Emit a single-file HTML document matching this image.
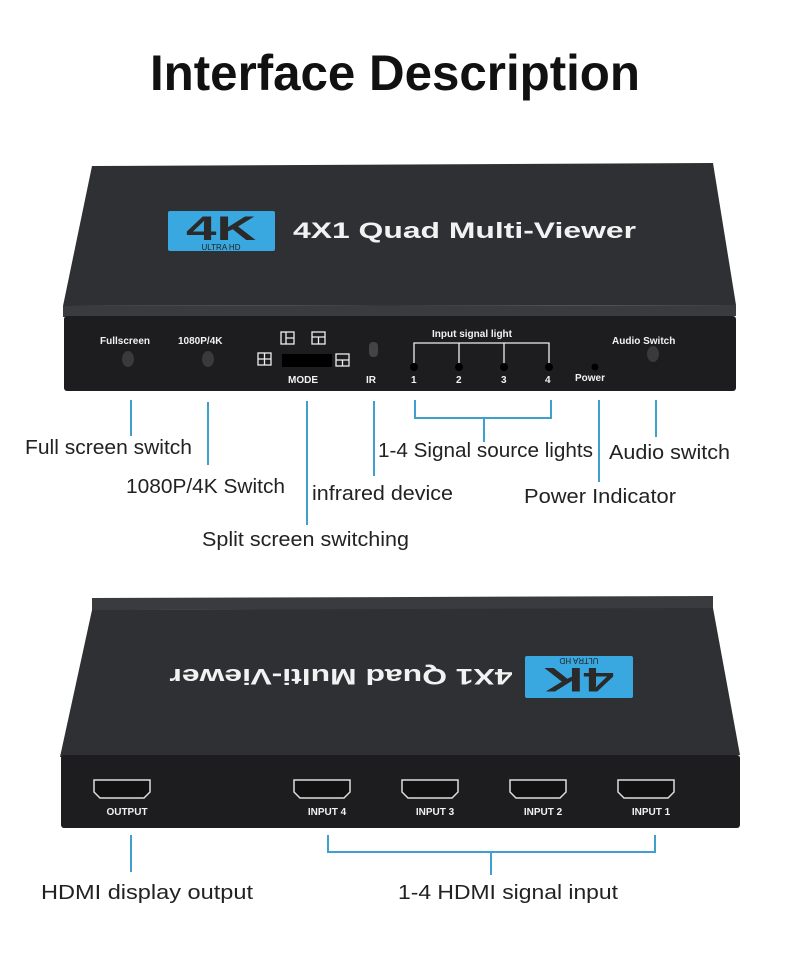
<!DOCTYPE html>
<html><head><meta charset="utf-8"><style>
html,body{margin:0;padding:0;background:#fff;}
svg{display:block;}
.lbl{font-family:"Liberation Sans",sans-serif;font-size:20px;fill:#222;}
.w{font-family:"Liberation Sans",sans-serif;font-weight:bold;fill:#f2f2f2;}
.ln{stroke:#3f9fcf;stroke-width:2;fill:none;}
</style></head><body>
<svg width="790" height="971" viewBox="0 0 790 971" xmlns="http://www.w3.org/2000/svg">
<text x="395" y="90" text-anchor="middle" font-family="Liberation Sans,sans-serif" font-weight="bold" font-size="50" fill="#111" textLength="490" lengthAdjust="spacingAndGlyphs">Interface Description</text>

<!-- top device -->
<polygon points="92,166 713,163 736,305 63,306" fill="#2f3033"/>
<polygon points="63,306 736,305 736,316 63,317" fill="#3a3b3e"/>
<rect x="64" y="316" width="672" height="75" rx="3" fill="#1d1d1f"/>
<rect x="168" y="211" width="107" height="40" rx="2" fill="#39a8e0"/>
<text x="221" y="240" text-anchor="middle" font-family="Liberation Sans,sans-serif" font-weight="bold" font-size="34" fill="#2a2a2a" textLength="70" lengthAdjust="spacingAndGlyphs">4K</text>
<text x="221" y="250" text-anchor="middle" font-family="Liberation Sans,sans-serif" font-size="8" fill="#222">ULTRA  HD</text>
<text x="293" y="238" class="w" font-size="22" textLength="343" lengthAdjust="spacingAndGlyphs">4X1 Quad Multi-Viewer</text>
<g class="w" font-size="10">
<text x="100" y="344">Fullscreen</text>
<text x="178" y="344">1080P/4K</text>
<text x="288" y="383">MODE</text>
<text x="366" y="383">IR</text>
<text x="432" y="337">Input signal light</text>
<text x="411" y="383">1</text><text x="456" y="383">2</text><text x="501" y="383">3</text><text x="545" y="383">4</text>
<text x="575" y="381">Power</text>
<text x="612" y="344">Audio Switch</text>
</g>
<ellipse cx="128" cy="359" rx="6" ry="8" fill="#3a3a3a"/>
<ellipse cx="208" cy="359" rx="6" ry="8" fill="#3a3a3a"/>
<ellipse cx="653" cy="354" rx="6" ry="8" fill="#3a3a3a"/>
<rect x="369" y="342" width="9" height="15" rx="4" fill="#444"/>
<rect x="282" y="354" width="50" height="13" fill="#000"/>
<g stroke="#eee" fill="none" stroke-width="1.3">
<rect x="258" y="353" width="13" height="12"/><rect x="281" y="332" width="13" height="12"/><rect x="312" y="332" width="13" height="12"/><rect x="336" y="354" width="13" height="12"/>
<path d="M264.5 353V365M258 359H271M286 332V344M286 338H294M312 337H325M318.5 337V344M336 360H349M342.5 360V366"/>
</g>
<path d="M414 366V343H549V366M459 343V366M504 343V366" stroke="#eee" stroke-width="1.3" fill="none"/>
<g fill="#000"><circle cx="414" cy="367" r="4"/><circle cx="459" cy="367" r="4"/><circle cx="504" cy="367" r="4"/><circle cx="549" cy="367" r="4"/><circle cx="595" cy="367" r="3.5"/></g>

<!-- top connectors -->
<path class="ln" d="M131 400V436M208 402V465M307 401V525M374 401V476M415 400V418H551V400M484 418V442M599 400V482M656 400V437"/>
<text class="lbl" x="25" y="454" textLength="167" lengthAdjust="spacingAndGlyphs">Full screen switch</text>
<text class="lbl" x="126" y="493" textLength="159" lengthAdjust="spacingAndGlyphs">1080P/4K Switch</text>
<text class="lbl" x="202" y="546" textLength="207" lengthAdjust="spacingAndGlyphs">Split screen switching</text>
<text class="lbl" x="312" y="500" textLength="141" lengthAdjust="spacingAndGlyphs">infrared device</text>
<text class="lbl" x="378" y="457" textLength="215" lengthAdjust="spacingAndGlyphs">1-4 Signal source lights</text>
<text class="lbl" x="609" y="459" textLength="121" lengthAdjust="spacingAndGlyphs">Audio switch</text>
<text class="lbl" x="524" y="503" textLength="152" lengthAdjust="spacingAndGlyphs">Power Indicator</text>

<!-- bottom device -->
<polygon points="92,598 713,596 713,609 92,610" fill="#3a3b3e"/>
<polygon points="92,610 713,608 740,755 60,757" fill="#2f3033"/>
<rect x="61" y="755" width="679" height="73" rx="3" fill="#1d1d1f"/>
<rect x="525" y="656" width="108" height="42" rx="2" fill="#39a8e0"/>
<g transform="rotate(180 579 677)">
<text x="579" y="686" text-anchor="middle" font-family="Liberation Sans,sans-serif" font-weight="bold" font-size="34" fill="#2a2a2a" textLength="70" lengthAdjust="spacingAndGlyphs">4K</text>
<text x="579" y="696" text-anchor="middle" font-family="Liberation Sans,sans-serif" font-size="8" fill="#222">ULTRA  HD</text>
</g>
<g transform="rotate(180 341 677)">
<text x="341" y="685" text-anchor="middle" class="w" font-size="22" textLength="343" lengthAdjust="spacingAndGlyphs">4X1 Quad Multi-Viewer</text>
</g>
<g fill="#111" stroke="#ddd" stroke-width="1.5">
<path d="M94 780H150V792L144 798H100L94 792Z"/>
<path d="M294 780H350V792L344 798H300L294 792Z"/>
<path d="M402 780H458V792L452 798H408L402 792Z"/>
<path d="M510 780H566V792L560 798H516L510 792Z"/>
<path d="M618 780H674V792L668 798H624L618 792Z"/>
</g>
<g class="w" font-size="10" text-anchor="middle">
<text x="127" y="815">OUTPUT</text><text x="327" y="815">INPUT 4</text><text x="435" y="815">INPUT 3</text><text x="543" y="815">INPUT 2</text><text x="651" y="815">INPUT 1</text>
</g>
<path class="ln" d="M131 835V872M328 835V852H655V835M491 852V875"/>
<text class="lbl" x="41" y="899" textLength="212" lengthAdjust="spacingAndGlyphs">HDMI display output</text>
<text class="lbl" x="398" y="899" textLength="220" lengthAdjust="spacingAndGlyphs">1-4 HDMI signal input</text>
</svg>
</body></html>
